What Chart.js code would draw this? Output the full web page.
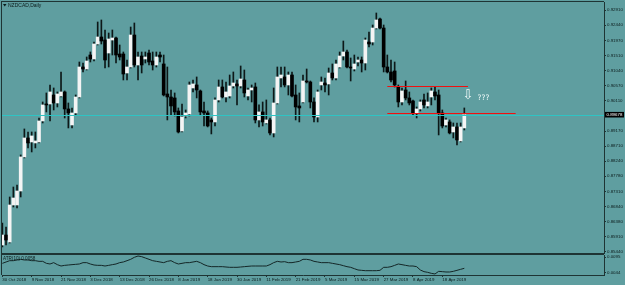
<!DOCTYPE html>
<html>
<head>
<meta charset="utf-8">
<title>NZDCAD,Daily</title>
<script src="https://cdn.jsdelivr.net/npm/chart.js"></script>
<style>
  body { margin: 0; background: #5f9ea0; }
  #wrap { position: relative; width: 625px; height: 285px; overflow: hidden; background: #5f9ea0; }
  canvas { position: absolute; left: 0; }
  #price { top: 0; }
  #atr { top: 254px; }
</style>
</head>
<body>
<div id="wrap">
  <canvas id="price" width="625" height="254"></canvas>
  <canvas id="atr" width="625" height="31"></canvas>
</div>
<script>
// daily candles, 30 Oct 2018 .. 26 Apr 2019
const opens = [
  .85656,.85964,.85748,.86891,.86891,.87323,.88374,.88960,.88837,.88806,
  .88837,.89485,.90009,.90009,.90287,.90040,.90256,.90380,.89855,.89361,
  .89732,.90225,.91151,.91089,.91521,.91398,.91861,.92077,.91984,.91583,
  .91984,.92046,.91552,.91552,.90966,.91151,.92138,.91213,.91490,.91398,
  .91583,.91336,.91213,.91521,.91244,.90318,.90225,.90195,.89793,.89176,
  .89639,.89701,.90503,.90596,.90411,.89793,.89732,.89516,.89454,.90133,
  .90534,.90225,.90256,.90565,.90627,.90565,.90750,.90256,.90441,.90534,
  .89516,.89763,.89423,.89516,.89114,.90040,.90812,.90843,.90596,.90904,
  .90287,.89948,.90071,.90719,.90688,.90071,.89608,.90596,.90657,.90627,
  .90966,.90812,.91151,.91490,.91614,.91151,.91089,.91305,.91367,.91274,
  .91922,.91922,.92354,.92632,.92354,.91151,.90997,.91028,.90534,.90071,
  .90441,.90195,.90102,.89732,.89855,.90133,.89948,.90225,.90380,.90287,
  .89732,.89361,.89454,.89145,.89300,.88868,.89269
];
const highs = [
  .86335,.86211,.87138,.87446,.87508,.88436,.89238,.89145,.89145,.89145,
  .89577,.90071,.90349,.90596,.90503,.90380,.90997,.90411,.90040,.89886,
  .90287,.91305,.91274,.91460,.91614,.91922,.92540,.92602,.92293,.92200,
  .92293,.92077,.91830,.91614,.91367,.92385,.92509,.91614,.91614,.91614,
  .91676,.91614,.91614,.91614,.91521,.91151,.90441,.90349,.89886,.90009,
  .89824,.90688,.90750,.90843,.90441,.90071,.89793,.89577,.90195,.90750,
  .90750,.90688,.90904,.90997,.90750,.91182,.91058,.90503,.90596,.90657,
  .89979,.90071,.90133,.89577,.90503,.91151,.91151,.91151,.90997,.90997,
  .90596,.90349,.90904,.91089,.90719,.90195,.90441,.90843,.90812,.91120,
  .91244,.91367,.91614,.91953,.91676,.91429,.91521,.91460,.91460,.92046,
  .92231,.92447,.92818,.92663,.92447,.91521,.91367,.91305,.90596,.90503,
  .90719,.90380,.90133,.89917,.90133,.90318,.90349,.90503,.90534,.90441,
  .89824,.89577,.89516,.89423,.89423,.89423,.89886
];
const lows = [
  .85594,.85656,.85718,.86829,.86798,.87138,.88343,.88652,.88528,.88652,
  .88806,.89423,.89763,.89485,.89824,.89917,.90225,.89577,.89269,.89269,
  .89670,.90195,.90997,.91058,.91305,.91336,.91830,.91861,.91120,.91151,
  .91521,.91274,.91367,.90750,.90750,.91120,.91151,.90750,.90966,.91274,
  .91213,.91058,.91151,.91305,.90256,.89516,.89670,.89639,.89114,.89145,
  .89577,.89639,.90380,.90195,.89670,.89330,.89300,.89084,.89330,.90071,
  .90195,.90071,.90195,.90503,.89979,.90503,.90225,.90133,.90071,.89423,
  .89300,.89330,.89392,.89053,.88991,.90009,.90534,.90534,.90287,.90225,
  .89516,.89454,.90040,.90657,.89886,.89454,.89454,.90441,.90380,.90287,
  .90750,.90750,.91120,.91367,.91120,.90719,.91028,.91182,.90997,.91058,
  .91768,.91830,.92324,.92324,.90997,.90966,.90688,.90534,.89917,.89979,
  .90133,.89979,.89670,.89577,.89793,.89886,.89886,.89979,.90133,.89053,
  .89269,.89300,.89084,.88960,.88744,.88837,.89207
];
const closes = [
  .85964,.85810,.86891,.87107,.87323,.88374,.88960,.88806,.89022,.88868,
  .89485,.89979,.89979,.90380,.90040,.90318,.90380,.89855,.89732,.89732,
  .90225,.91151,.91089,.91336,.91398,.91861,.92077,.91953,.91367,.92015,
  .92046,.91521,.91460,.90935,.91151,.92138,.91213,.91460,.91213,.91460,
  .91305,.91213,.91460,.91460,.90287,.90225,.89948,.89763,.89145,.89608,
  .89732,.90596,.90627,.90441,.89763,.89732,.89330,.89454,.90133,.90534,
  .90225,.90380,.90565,.90657,.90565,.90781,.90349,.90441,.90503,.89516,
  .89763,.89454,.89516,.89114,.90040,.90843,.90904,.90596,.90904,.90256,
  .89917,.89886,.90719,.90688,.90071,.89608,.90380,.90688,.90596,.90966,
  .90812,.91244,.91490,.91614,.91151,.91120,.91244,.91367,.91274,.91984,
  .91861,.92354,.92602,.92354,.91151,.90997,.90750,.90596,.90071,.90411,
  .90195,.90040,.89732,.89855,.90071,.89979,.90071,.90411,.90256,.89732,
  .89330,.89516,.89114,.89300,.88898,.89300,.89678
];
const atr = [
  .00748,.00791,.00833,.00833,.00855,.00876,.00855,.00855,.00833,.00833,
  .00812,.00812,.00748,.00727,.00770,.00706,.00663,.00684,.00695,.00706,
  .00716,.00727,.00770,.00770,.00727,.00695,.00684,.00684,.00663,.00684,
  .00706,.00727,.00770,.00791,.00833,.00876,.00940,.00982,.00961,.00918,
  .00876,.00833,.00812,.00791,.00770,.00812,.00833,.00770,.00727,.00748,
  .00770,.00770,.00791,.00812,.00770,.00706,.00663,.00642,.00642,.00642,
  .00642,.00631,.00621,.00621,.00621,.00631,.00642,.00653,.00663,.00663,
  .00663,.00663,.00663,.00706,.00770,.00812,.00791,.00801,.00770,.00770,
  .00791,.00812,.00876,.00876,.00855,.00812,.00791,.00770,.00770,.00770,
  .00748,.00727,.00706,.00674,.00642,.00621,.00578,.00536,.00525,.00514,
  .00514,.00514,.00514,.00525,.00621,.00621,.00642,.00684,.00727,.00706,
  .00684,.00663,.00663,.00642,.00536,.00483,.00461,.00429,.00408,.00493,
  .00483,.00472,.00472,.00493,.00525,.00557,.00589
];

const dateLabels = ['30 Oct 2018', '9 Nov 2018', '21 Nov 2018', '3 Dec 2018', '13 Dec 2018',
  '26 Dec 2018', '8 Jan 2019', '18 Jan 2019', '30 Jan 2019', '11 Feb 2019', '21 Feb 2019',
  '5 Mar 2019', '15 Mar 2019', '27 Mar 2019', '8 Apr 2019', '18 Apr 2019'];
const dateBars = [0, 8, 16, 24, 32, 40, 48, 56, 64, 72, 80, 88, 96, 104, 112, 120];
const priceTicks = [0.92910, 0.92440, 0.91970, 0.91510, 0.91040, 0.90570, 0.90110,
  0.89170, 0.88710, 0.88240, 0.87780, 0.87310, 0.86840, 0.86380, 0.85910, 0.85440];
const atrTicks = [0.0095, 0.0044];
const bid = 0.89678;
// hand drawn levels
const levelPrices = [0.90565, 0.89732];
const levelFrom = [105, 105];
const levelTo = [127, 140];

const axisColor = '#1e3434';
const textColor = '#0c1c1c';
const font = 'Liberation Sans';
const tickFont = { family: font, size: 4.4 };
const xMin = -0.1, xMax = 164.1;

const wicks = lows.map((l, i) => ({ x: i, y: [l, highs[i]] }));
const bodies = opens.map((o, i) => ({ x: i, y: [o, closes[i]] }));

const priceDecor = {
  id: 'priceDecor',
  afterDatasetsDraw(chart) {
    const { ctx, chartArea: a, scales: { x, y } } = chart;
    ctx.save();
    ctx.lineWidth = 1;
    // bid line
    const yb = Math.round(y.getPixelForValue(bid)) + 0.5;
    ctx.strokeStyle = '#2ec4c4';
    ctx.beginPath(); ctx.moveTo(a.left, yb); ctx.lineTo(a.right, yb); ctx.stroke();
    // levels
    ctx.strokeStyle = '#f01010';
    levelPrices.forEach((p, i) => {
      const py = Math.round(y.getPixelForValue(p)) + 0.5;
      ctx.beginPath();
      ctx.moveTo(x.getPixelForValue(levelFrom[i]), py);
      ctx.lineTo(x.getPixelForValue(levelTo[i]), py);
      ctx.stroke();
    });
    // arrow and question marks
    ctx.fillStyle = '#eef8f8';
    ctx.textBaseline = 'middle';
    ctx.textAlign = 'center';
    ctx.font = '13px "DejaVu Sans"';
    ctx.fillText('\u21E9', x.getPixelForValue(127), y.getPixelForValue(0.9027));
    ctx.textAlign = 'left';
    ctx.font = '7.5px "DejaVu Sans"';
    ctx.fillText('???', x.getPixelForValue(129.6), y.getPixelForValue(0.9018));
    ctx.restore();
  },
  afterDraw(chart) {
    const { ctx, chartArea: a, scales: { y } } = chart;
    ctx.save();
    ctx.fillStyle = axisColor;
    ctx.fillRect(a.left - 1, a.top - 1, a.right - a.left + 1, 1);
    ctx.fillRect(a.left - 1, a.top - 1, 1, a.bottom - a.top + 1);
    ctx.fillRect(a.left - 1, a.bottom - 1, a.right - a.left + 1, 1);
    // title
    ctx.fillStyle = textColor;
    ctx.beginPath();
    ctx.moveTo(3, 4); ctx.lineTo(6.5, 4); ctx.lineTo(4.75, 6.5); ctx.closePath(); ctx.fill();
    ctx.font = '5px "' + font + '"';
    ctx.textBaseline = 'middle';
    ctx.fillText('NZDCAD,Daily', 8, 5.5);
    // bid price box
    const yb = y.getPixelForValue(bid);
    ctx.fillStyle = '#000';
    ctx.fillRect(a.right + 1, yb - 2.8, 19, 5.6);
    ctx.fillStyle = '#fff';
    ctx.font = '4.4px "' + font + '"';
    ctx.fillText(bid.toFixed(5), a.right + 2.5, yb + 0.2);
    ctx.restore();
  }
};

const atrDecor = {
  id: 'atrDecor',
  afterDraw(chart) {
    const { ctx, chartArea: a } = chart;
    ctx.save();
    ctx.fillStyle = axisColor;
    ctx.fillRect(a.left - 1, 0, a.right - a.left + 1, 1);
    ctx.fillRect(a.left - 1, 0, 1, a.bottom);
    ctx.fillStyle = textColor;
    ctx.font = '4.6px "' + font + '"';
    ctx.textBaseline = 'middle';
    ctx.fillText('ATR(10) 0.0058', 3, 5);
    ctx.restore();
  }
};

const noPad = s => { s.paddingTop = 0; s.paddingBottom = 0; s.paddingLeft = 0; s.paddingRight = 0; };

new Chart(document.getElementById('price'), {
  type: 'bar',
  data: {
    datasets: [{
      label: 'body',
      data: bodies,
      grouped: false,
      order: 1,
      barThickness: 3,
      minBarLength: 1,
      borderWidth: 0,
      backgroundColor: c => closes[c.dataIndex] >= opens[c.dataIndex] ? '#f4f4f4' : '#000000'
    }, {
      label: 'wick',
      data: wicks,
      grouped: false,
      order: 2,
      barThickness: 1,
      borderWidth: 0,
      backgroundColor: '#0d1818'
    }]
  },
  options: {
    responsive: false,
    animation: false,
    layout: { padding: { left: 2, top: 2, right: 0, bottom: 0 } },
    plugins: { legend: { display: false }, tooltip: { enabled: false } },
    scales: {
      x: { type: 'linear', display: false, min: xMin, max: xMax, offset: false },
      y: {
        position: 'right',
        min: 0.85378, max: 0.93157,
        grid: { drawOnChartArea: false, drawTicks: true, tickLength: 2, color: axisColor },
        border: { display: true, color: axisColor },
        ticks: { font: tickFont, color: textColor, padding: 1, autoSkip: false,
          callback: v => v.toFixed(5) },
        afterBuildTicks: s => { s.ticks = priceTicks.map(v => ({ value: v })); },
        afterFit: s => { s.width = 21; noPad(s); }
      }
    }
  },
  plugins: [priceDecor]
});

new Chart(document.getElementById('atr'), {
  type: 'line',
  data: {
    datasets: [{
      label: 'ATR',
      data: atr.map((v, i) => ({ x: i, y: v })),
      borderColor: '#142626',
      borderWidth: 1,
      pointRadius: 0,
      tension: 0
    }]
  },
  options: {
    responsive: false,
    animation: false,
    layout: { padding: { left: 2, top: 1, right: 0, bottom: 0 } },
    plugins: { legend: { display: false }, tooltip: { enabled: false } },
    scales: {
      x: {
        type: 'linear', min: xMin, max: xMax, offset: false,
        grid: { drawOnChartArea: false, drawTicks: true, tickLength: 2, color: axisColor },
        border: { display: true, color: axisColor },
        ticks: { font: tickFont, color: textColor, padding: 0, autoSkip: false, maxRotation: 0,
          align: 'start', callback: v => dateLabels[dateBars.indexOf(v)] },
        afterBuildTicks: s => { s.ticks = dateBars.map(v => ({ value: v })); },
        afterFit: s => { s.height = 10; noPad(s); }
      },
      y: {
        position: 'right',
        min: 0.00376, max: 0.01014,
        grid: { drawOnChartArea: false, drawTicks: true, tickLength: 2, color: axisColor },
        border: { display: true, color: axisColor },
        ticks: { font: tickFont, color: textColor, padding: 1, autoSkip: false,
          callback: v => v.toFixed(4) },
        afterBuildTicks: s => { s.ticks = atrTicks.map(v => ({ value: v })); },
        afterFit: s => { s.width = 21; noPad(s); }
      }
    }
  },
  plugins: [atrDecor]
});
</script>
</body>
</html>
